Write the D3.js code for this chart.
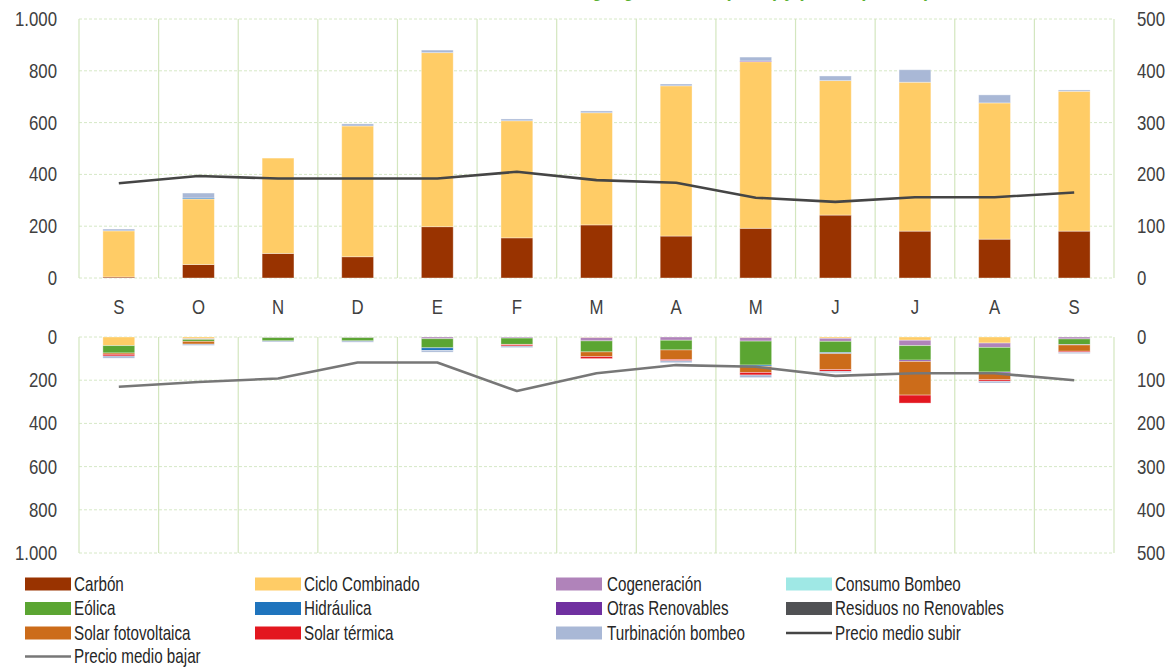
<!DOCTYPE html>
<html>
<head>
<meta charset="utf-8">
<script src="https://cdn.jsdelivr.net/npm/d3@7"></script>
<style>
  html, body { margin: 0; padding: 0; background: #fff; overflow: hidden; }
  svg { display: block; }
  text { font-family: "Liberation Sans", Arial, sans-serif; }
</style>
</head>
<body>
<svg id="chart" width="1168" height="667"></svg>
<script>
// Months (Sep to Sep)
const months = ["S", "O", "N", "D", "E", "F", "M", "A", "M", "J", "J", "A", "S"];

// Upward energy (GWh) by technology
const carbonSubir       = [4, 52, 95, 82, 198, 155, 205, 162, 192, 243, 181, 150, 181];
const cicloSubir        = [178, 253, 368, 505, 672, 452, 433, 580, 643, 519, 575, 526, 540];
const hidraulicaSubir   = [0, 4, 0, 0, 0, 0, 0, 0, 0, 0, 0, 0, 0];
const otrasRenSubir     = [0, 0, 0, 0, 0, 0, 0, 0, 3, 0, 0, 0, 0];
const turbinacionSubir  = [7, 19, 0, 8, 10, 7, 7, 7, 15, 18, 48, 31, 5];

// Downward energy (GWh) by technology
const cicloBajar        = [40, 8, 0, 0, 0, 0, 3, 0, 3, 6, 15, 28, 0];
const cogeneracionBajar = [0, 3, 3, 3, 8, 5, 15, 15, 16, 14, 25, 20, 9];
const eolicaBajar       = [34, 9, 15, 15, 42, 29, 51, 45, 111, 52, 67, 114, 26];
const hidraulicaBajar   = [0, 0, 0, 0, 12, 0, 0, 0, 6, 5, 0, 0, 0];
const otrasRenBajar     = [0, 0, 0, 0, 0, 0, 0, 0, 0, 0, 6, 5, 0];
const residuosBajar     = [0, 0, 0, 0, 0, 0, 0, 0, 0, 0, 0, 0, 2];
const solarPVBajar      = [6, 13, 0, 0, 0, 2, 22, 44, 28, 74, 156, 31, 29];
const solarTermBajar    = [8, 0, 0, 0, 0, 6, 9, 6, 12, 8, 37, 7, 5];
const turbinacionBajar  = [10, 6, 5, 6, 8, 7, 0, 9, 12, 6, 0, 8, 6];

// Average prices (€/MWh)
const precioSubir = [183, 197, 192, 192, 192, 205, 189, 184, 155, 147, 156, 156, 165];
const precioBajar = [115, 104, 96, 59, 59, 125, 84, 65, 69, 90, 84, 84, 100];

// Tick values
const energyTicks = [0, 200, 400, 600, 800, 1000];
const priceTicks  = [0, 100, 200, 300, 400, 500];

const zeros = months.map(() => 0);

// Technologies in stacking / legend order
const techs = [
  { name: "Carbón",                 color: "#993300", up: carbonSubir,      down: zeros },
  { name: "Ciclo Combinado",        color: "#ffcc66", up: cicloSubir,       down: cicloBajar },
  { name: "Cogeneración",           color: "#b083ba", up: zeros,            down: cogeneracionBajar },
  { name: "Consumo Bombeo",         color: "#9fe8e5", up: zeros,            down: zeros },
  { name: "Eólica",                 color: "#5ba532", up: zeros,            down: eolicaBajar },
  { name: "Hidráulica",             color: "#1f74bd", up: hidraulicaSubir,  down: hidraulicaBajar },
  { name: "Otras Renovables",       color: "#7030a0", up: otrasRenSubir,    down: otrasRenBajar },
  { name: "Residuos no Renovables", color: "#505154", up: zeros,            down: residuosBajar },
  { name: "Solar fotovoltaica",     color: "#cc6c1a", up: zeros,            down: solarPVBajar },
  { name: "Solar térmica",          color: "#e3171f", up: zeros,            down: solarTermBajar },
  { name: "Turbinación bombeo",     color: "#a9b8d6", up: turbinacionSubir, down: turbinacionBajar }
];

const lineSubirColor = "#454545";
const lineBajarColor = "#777777";

const fmt = d3.formatLocale({ decimal: ",", thousands: ".", grouping: [3], currency: ["", "€"] }).format(",d");

// Horizontal squeeze that gives the labels a condensed face
const TICK_SX = 0.84, LABEL_SX = 0.76;

const svg = d3.select("#chart");

const left = 79, right = 1114;
const x = d3.scaleBand().domain(d3.range(months.length)).range([left, right])
  .paddingInner(0.6).paddingOuter(0.3);
const step = x.step();

// Top panel scales
const yTop  = d3.scaleLinear().domain([0, 1000]).range([278, 19]);
const yTopR = d3.scaleLinear().domain([0, 500]).range([278, 19]);
// Bottom panel scales (values grow downward)
const yBot  = d3.scaleLinear().domain([0, 1000]).range([337, 553]);
const yBotR = d3.scaleLinear().domain([0, 500]).range([337, 553]);

// Title, sitting above the top edge
svg.append("text")
  .attr("transform", `translate(930,-4.5) scale(${LABEL_SX},1)`)
  .attr("text-anchor", "end")
  .attr("fill", "#5ab031")
  .attr("font-size", 24).attr("font-weight", "bold")
  .text("Energía gestionada (GWh) y precio (€/MWh)");

function drawGrid(yL, [y0, y1]) {
  const g = svg.append("g");
  g.selectAll("line.h").data(energyTicks).join("line")
    .attr("x1", left).attr("x2", right)
    .attr("y1", d => yL(d)).attr("y2", d => yL(d))
    .attr("stroke", "#d6e8c6").attr("stroke-width", 1)
    .attr("stroke-dasharray", "3,2");
  const bounds = d3.range(months.length + 1).map(i => left + i * step);
  g.selectAll("line.v").data(bounds).join("line")
    .attr("x1", d => d).attr("x2", d => d)
    .attr("y1", Math.min(y0, y1)).attr("y2", Math.max(y0, y1))
    .attr("stroke", "#d3e6bf").attr("stroke-width", 1.2);
}

function styleTicks(g) {
  g.select(".domain").remove();
  g.selectAll("text")
    .attr("font-size", 20).attr("fill", "#404040")
    .attr("font-family", null)
    .attr("transform", `scale(${TICK_SX},1)`);
}

function drawAxes(yL, yR) {
  const axL = d3.axisLeft(yL).tickValues(energyTicks).tickFormat(fmt).tickSize(0).tickPadding(0);
  svg.append("g").attr("transform", `translate(57,0)`).call(axL).call(styleTicks);
  const axR = d3.axisRight(yR).tickValues(priceTicks).tickFormat(fmt).tickSize(0).tickPadding(0);
  svg.append("g").attr("transform", `translate(1137,0)`).call(axR).call(styleTicks);
}

function drawStack(key, yL, dir) {
  const rows = months.map((m, i) => {
    const r = { i };
    techs.forEach(t => { r[t.name] = t[key][i]; });
    return r;
  });
  const stack = d3.stack().keys(techs.map(t => t.name))(rows);
  const g = svg.append("g");
  stack.forEach((layer, k) => {
    g.selectAll(null).data(layer.filter(d => d[1] - d[0] > 0)).join("rect")
      .attr("x", d => x(d.data.i))
      .attr("width", x.bandwidth())
      .attr("y", d => dir > 0 ? yL(d[1]) : yL(d[0]))
      .attr("height", d => Math.abs(yL(d[1]) - yL(d[0])))
      .attr("fill", techs[k].color)
      .attr("stroke", "rgba(255,255,255,0.45)")
      .attr("stroke-width", 0.8);
  });
}

function drawLine(values, yR, color) {
  const line = d3.line().x((d, i) => x(i) + x.bandwidth() / 2).y(d => yR(d));
  svg.append("path").datum(values)
    .attr("d", line)
    .attr("fill", "none")
    .attr("stroke", color)
    .attr("stroke-width", 2.6)
    .attr("stroke-linejoin", "round");
}

// Top panel
drawGrid(yTop, [19, 278]);
drawStack("up", yTop, 1);
drawLine(precioSubir, yTopR, lineSubirColor);
drawAxes(yTop, yTopR);

// Month labels
svg.append("g").selectAll("text").data(months).join("text")
  .attr("transform", (d, i) => `translate(${x(i) + x.bandwidth() / 2},314) scale(${TICK_SX},1)`)
  .attr("text-anchor", "middle")
  .attr("font-size", 20).attr("fill", "#404040")
  .text(d => d);

// Bottom panel
drawGrid(yBot, [337, 553]);
drawStack("down", yBot, -1);
drawLine(precioBajar, yBotR, lineBajarColor);
drawAxes(yBot, yBotR);

// Legend
const legendItems = techs.map(t => ({ name: t.name, color: t.color, type: "rect" }))
  .concat([
    { name: "Precio medio subir", color: lineSubirColor, type: "line" },
    { name: "Precio medio bajar", color: lineBajarColor, type: "line" }
  ]);
const swatchX = [25, 255, 556, 786];
const textX   = [74, 304, 607, 835];
const rowY    = [584, 608.5, 633, 656.5];
const lg = svg.append("g");
legendItems.forEach((it, k) => {
  const c = k % 4, cy = rowY[Math.floor(k / 4)];
  const sx = swatchX[c];
  if (it.type === "rect") {
    lg.append("rect").attr("x", sx).attr("y", cy - 6.5).attr("width", 46).attr("height", 13)
      .attr("fill", it.color);
  } else {
    lg.append("line").attr("x1", sx).attr("x2", sx + 46).attr("y1", cy).attr("y2", cy)
      .attr("stroke", it.color).attr("stroke-width", 2.6);
  }
  lg.append("text")
    .attr("transform", `translate(${textX[c]},${cy}) scale(${LABEL_SX},1)`)
    .attr("dy", "0.34em")
    .attr("font-size", 20).attr("fill", "#262626").text(it.name);
});
</script>
</body>
</html>
